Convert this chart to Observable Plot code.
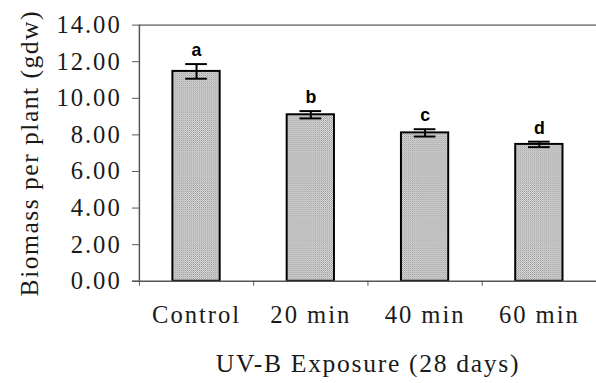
<!DOCTYPE html>
<html><head><meta charset="utf-8">
<script src="https://cdn.jsdelivr.net/npm/d3@7"></script>
<script src="https://cdn.jsdelivr.net/npm/@observablehq/plot@0.6"></script>
<style>
html,body{margin:0;padding:0;background:#fff;overflow:hidden;}
g[aria-label="y-axis tick label"] text{letter-spacing:2px;}
g[aria-label="x-axis tick label"] text{letter-spacing:2px;}
</style>
</head><body><div id="chart"></div>
<script>
const categories = ["Control", "20 min", "40 min", "60 min"];
const means = [11.47, 9.10, 8.11, 7.48];
const errors = [0.40, 0.20, 0.20, 0.15];
const letters = ["a", "b", "c", "d"];
const yTicks = [0, 2, 4, 6, 8, 10, 12, 14];
const yTitle = "Biomass per plant (gdw)";
const xTitle = "UV-B Exposure (28 days)";

const data = categories.map((c, i) => ({cat: c, v: means[i], e: errors[i], l: letters[i]}));
const serif = "'Liberation Serif', 'Times New Roman', serif";
const sans = "'Liberation Sans', Arial, sans-serif";

const plot = Plot.plot({
  width: 605, height: 383,
  marginLeft: 141, marginRight: 0, marginTop: 25, marginBottom: 98,
  style: {background: "#fff", overflow: "visible"},
  x: {domain: categories, padding: 0, label: null},
  y: {domain: [0, 14], label: null},
  marks: [
    Plot.ruleY([14], {stroke: "#8a8a8a", strokeWidth: 2}),
    Plot.barY(data, {x: "cat", y: "v", fill: "url(#dotpat)", stroke: "#000", strokeWidth: 2, insetLeft: 34, insetRight: 34}),
    Plot.ruleX(data, {x: "cat", y1: d => d.v - d.e, y2: d => d.v + d.e, stroke: "#000", strokeWidth: 2}),
    Plot.tickY(data, {x: "cat", y: d => d.v + d.e, stroke: "#000", strokeWidth: 2, insetLeft: 47, insetRight: 47}),
    Plot.tickY(data, {x: "cat", y: d => d.v - d.e, stroke: "#000", strokeWidth: 2, insetLeft: 47, insetRight: 47}),
    Plot.text(data, {x: "cat", y: d => d.v + d.e, text: "l", dy: -14, fontSize: 18, fontWeight: "bold", fontFamily: sans, fill: "#000"}),
    Plot.ruleX([categories[0]], {y1: 0, y2: 14, dx: -58, stroke: "#555", strokeWidth: 1.5}),
    Plot.ruleY([0], {stroke: "#555", strokeWidth: 1.5, insetLeft: -7}),
    Plot.axisY({ticks: yTicks, tickFormat: d => d.toFixed(2), tickSize: 7, tickPadding: 11, fontSize: 25, fontFamily: serif, fill: "#1a1a1a", stroke: "#555", label: null}),
    Plot.axisX({tickSize: 5, dx: -58, tickFormat: () => "", stroke: "#555", label: null}),
    Plot.axisX({tickSize: 0, tickPadding: 25, fontSize: 25, fontFamily: serif, fill: "#1a1a1a", label: null}),
    Plot.text([yTitle], {frameAnchor: "left", textAnchor: "middle", lineAnchor: "middle", dx: -111, rotate: -90, fontSize: 26, fontFamily: serif, fill: "#1a1a1a"}),
    Plot.text([xTitle], {frameAnchor: "bottom", textAnchor: "middle", lineAnchor: "middle", dy: 84, fontSize: 26, fontFamily: serif, fill: "#1a1a1a"})
  ]
});

const ns = "http://www.w3.org/2000/svg";
const defs = document.createElementNS(ns, "defs");
defs.innerHTML = '<pattern id="dotpat" width="2" height="2" patternUnits="userSpaceOnUse"><rect width="2" height="2" fill="#e2e2e2"/><rect width="1" height="1" fill="#8c8c8c"/><rect x="1" y="1" width="1" height="1" fill="#b0b0b0"/></pattern>';
plot.insertBefore(defs, plot.firstChild);
d3.select(plot).selectAll("text").each(function() {
  if (this.textContent === yTitle) this.style.letterSpacing = "1.5px";
  if (this.textContent === xTitle) this.style.letterSpacing = "1.7px";
});
document.getElementById("chart").appendChild(plot);
</script>
</body></html>
